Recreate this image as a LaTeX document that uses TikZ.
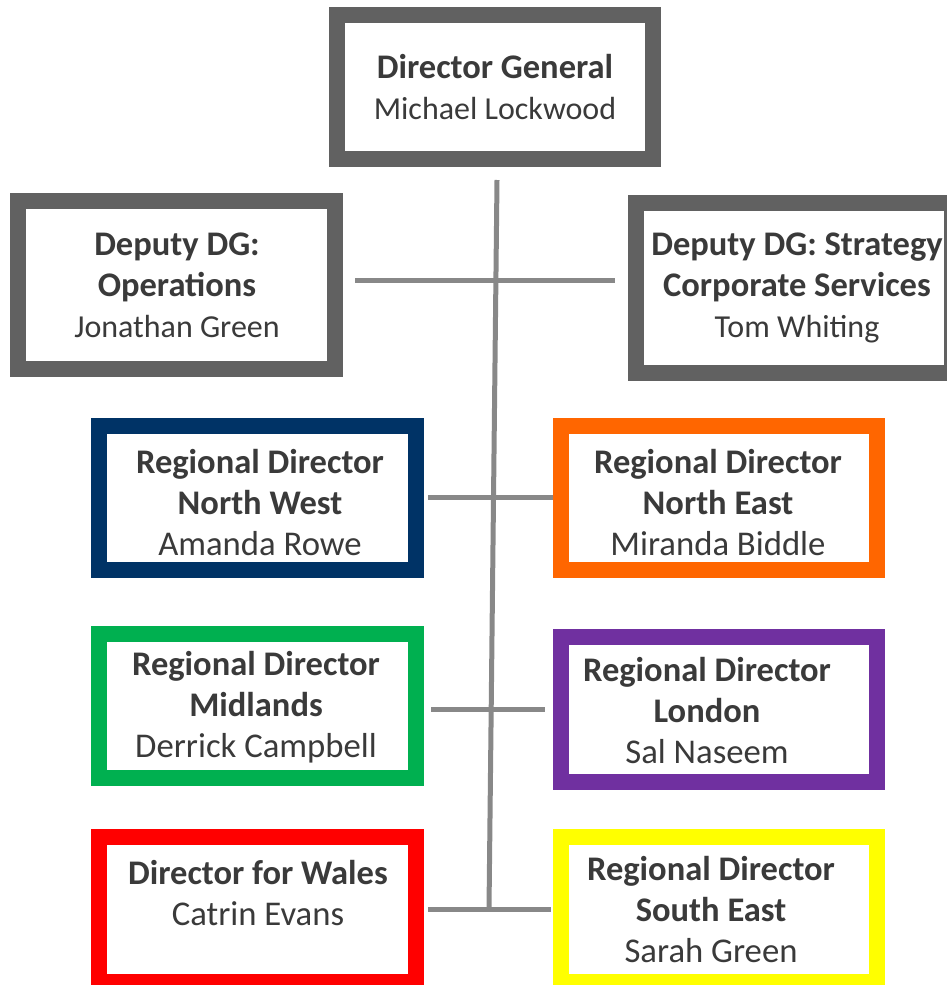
\documentclass[tikz,border=0pt]{standalone}
\usepackage{fontspec}
\setmainfont{Carlito}
\definecolor{boxgray}{HTML}{616161}
\definecolor{navy}{HTML}{003366}
\definecolor{orng}{HTML}{FF6600}
\definecolor{grn}{HTML}{00B050}
\definecolor{purp}{HTML}{7030A0}
\definecolor{rd}{HTML}{FF0000}
\definecolor{yel}{HTML}{FFFF00}
\definecolor{linegray}{HTML}{888888}
\definecolor{txt}{HTML}{3A3A3A}
\tikzset{
  orgbox/.style={draw=#1, line width=16pt, fill=white, inner sep=0pt, rectangle},
  orgtext/.style={align=center, text=txt, inner sep=0pt, font=\fontsize{32}{41}\selectfont},
  regtext/.style={orgtext, font=\fontsize{34.7}{41}\selectfont},
  conn/.style={draw=linegray, line width=5pt}
}
\newcommand{\ttl}[1]{{\fontsize{34.5}{41}\selectfont\bfseries #1}}
\begin{document}
\begin{tikzpicture}[x=1pt,y=-1pt]
\useasboundingbox (0,0) rectangle (947,985);
\clip (0,0) rectangle (947,985);
% connectors
\coordinate (vtop) at (497,180);
\coordinate (vbot) at (489,909);
\coordinate (h1l) at (355,280); \coordinate (h1r) at (615,280);
\coordinate (h2l) at (428,497); \coordinate (h2r) at (553,497);
\coordinate (h3l) at (431,709); \coordinate (h3r) at (545,709);
\coordinate (h4l) at (428,909); \coordinate (h4r) at (551,909);
\draw[conn] (h1l) -- (h1r);
\draw[conn] (h2l) -- (h2r);
\draw[conn] (h3l) -- (h3r);
\draw[conn] (h4l) -- (h4r);
\draw[conn] (vtop) -- (vbot);
% boxes
\node[orgbox=boxgray, minimum width=316pt, minimum height=144pt] (dg) at (495,87) {};
\node[orgbox=boxgray, minimum width=317pt, minimum height=168pt] (ops) at (176.5,285) {};
\node[orgbox=boxgray, minimum width=316pt, minimum height=170pt] (strat) at (794,288) {};
\node[orgbox=navy, minimum width=317pt, minimum height=144pt] (nw) at (257.5,498) {};
\node[orgbox=orng, minimum width=316pt, minimum height=144pt] (ne) at (719,498) {};
\node[orgbox=grn, minimum width=317pt, minimum height=144pt] (mid) at (257.5,706) {};
\node[orgbox=purp, minimum width=316pt, minimum height=145pt] (lon) at (719,709.5) {};
\node[orgbox=rd, minimum width=317pt, minimum height=145pt] (wal) at (257.5,909.5) {};
\node[orgbox=yel, minimum width=316pt, minimum height=145pt] (se) at (719,909.5) {};
% texts
\node[orgtext] (tdg) at (495,87) {\ttl{Director General}\\Michael Lockwood};
\node[orgtext] (tops) at (177,285) {\ttl{Deputy DG:}\\\ttl{Operations}\\Jonathan Green};
\node[orgtext] (tstrat) at (797,288) {\ttl{Deputy DG: Strategy}\\\ttl{Corporate Services}\\Tom Whiting};
\node[regtext] (tnw) at (260,503) {\ttl{Regional Director}\\\ttl{North West}\\Amanda Rowe};
\node[regtext] (tne) at (718,503) {\ttl{Regional Director}\\\ttl{North East}\\Miranda Biddle};
\node[regtext] (tmid) at (256,707) {\ttl{Regional Director}\\\ttl{Midlands}\\Derrick Campbell};
\node[regtext] (tlon) at (707,711) {\ttl{Regional Director}\\\ttl{London}\\Sal Naseem};
\node[regtext] (twal) at (258,893.5) {\ttl{Director for Wales}\\Catrin Evans};
\node[regtext] (tse) at (711,910) {\ttl{Regional Director}\\\ttl{South East}\\Sarah Green};
\end{tikzpicture}
\end{document}
